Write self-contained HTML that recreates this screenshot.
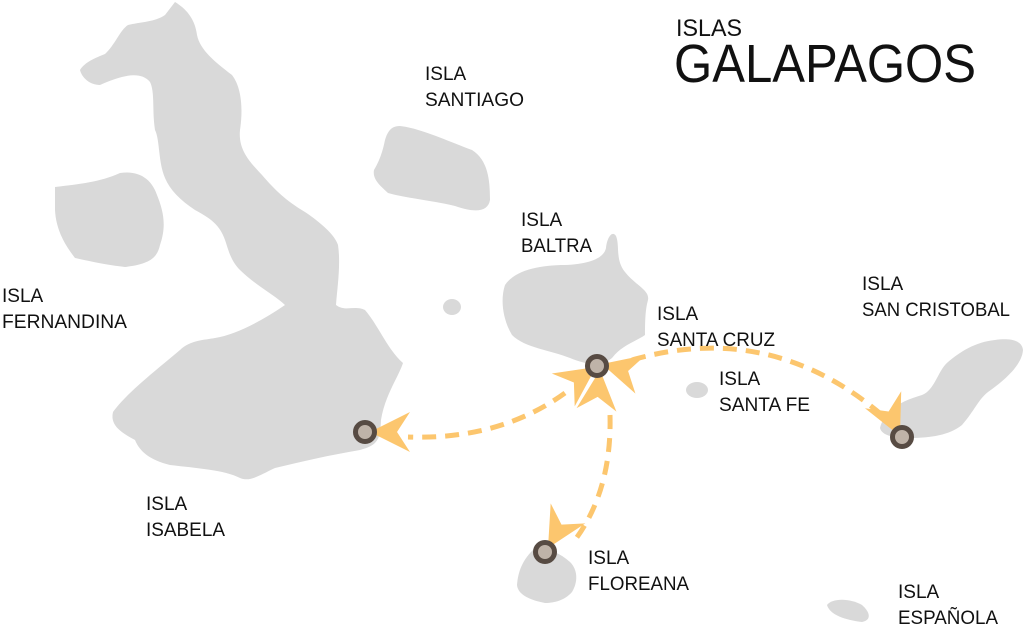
<!DOCTYPE html>
<html><head><meta charset="utf-8"><style>
html,body{margin:0;padding:0;background:#fff;}
svg{display:block;}
text{font-family:"Liberation Sans",sans-serif;fill:#111;}
</style></head><body>
<svg width="1024" height="630" viewBox="0 0 1024 630" xmlns="http://www.w3.org/2000/svg">
<g fill="#d9d9d9">
<path d="M175,2 C185,8 195,18 197,35 C200,50 215,62 232,75 C242,88 243,110 240,130 C238,150 250,162 262,175 C275,190 285,200 305,212 C320,222 335,235 338,245 C341,265 337,290 336,305 C345,312 355,305 365,310 C378,325 388,350 403,363 C398,378 385,395 381,420 C380,440 378,445 360,450 C330,455 300,462 275,468 C258,476 250,482 240,478 C225,470 195,468 170,465 C150,460 140,452 135,440 C120,432 110,425 113,412 C125,395 150,375 180,350 C190,340 205,340 215,338 C235,335 260,322 285,305 C275,295 255,285 240,270 C230,260 228,248 225,240 C220,225 210,218 195,210 C180,200 170,190 165,178 C158,162 160,140 155,130 C152,110 155,92 150,82 C140,70 120,76 100,85 C90,85 82,78 80,70 C85,62 95,58 105,54 C115,45 120,30 128,25 C140,22 155,22 165,15 Z"/>
<path d="M55,187 C80,184 100,182 120,173 C140,170 152,180 157,195 C163,210 167,225 160,245 C157,258 150,264 125,267 C100,264 85,260 75,258 C65,245 56,230 55,210 Z"/>
<path d="M400,126 C420,128 450,142 472,150 C488,160 490,180 490,200 C488,212 475,213 455,206 C430,200 405,198 388,193 C382,187 372,180 374,170 C380,160 383,150 385,140 C388,130 392,126 400,126 Z"/>
<path d="M505,285 C515,270 540,265 565,265 C590,264 604,258 606,248 C607,238 612,230 616,236 C620,245 615,260 625,272 C635,285 650,290 648,300 C645,310 645,325 645,335 C635,342 622,345 612,358 C600,368 585,364 570,358 C550,350 525,348 512,335 C503,320 500,300 505,285 Z"/>
<ellipse cx="452" cy="307" rx="9" ry="8"/>
<ellipse cx="697" cy="390" rx="11" ry="8"/>
<path d="M880,428 C885,408 905,400 922,395 C935,390 938,370 948,362 C960,352 975,342 995,340 C1010,338 1022,340 1023,350 C1022,365 1005,380 988,392 C978,400 975,410 962,425 C950,435 930,438 910,438 C895,438 882,436 880,428 Z"/>
<path d="M827,605 C832,598 850,598 862,605 C870,612 872,620 862,622 C845,620 830,615 827,605 Z"/>
<path d="M535,548 C548,548 560,553 570,562 C578,570 578,582 572,592 C565,600 555,603 545,603 C530,600 518,595 517,585 C518,572 522,560 535,548 Z"/>
</g>
<g fill="none" stroke="#fcc66e" stroke-width="5" stroke-dasharray="14,9">
<path d="M565,393 Q 500,440 408,437"/>
<path d="M610,415 Q 612,490 575,540"/>
<path d="M632,360 Q 770,320 882,415"/>
</g>
<g fill="#fcc66e">
<path d="M0,0 L-40,-20 L-27,0 L-40,20 Z" transform="translate(370,432) rotate(180)"/>
<path d="M0,0 L-40,-20 L-27,0 L-40,20 Z" transform="translate(596,367) rotate(-35)"/>
<path d="M0,0 L-40,-20 L-27,0 L-40,20 Z" transform="translate(600,370) rotate(-85)"/>
<path d="M0,0 L-40,-20 L-27,0 L-40,20 Z" transform="translate(548,548) rotate(120)"/>
<path d="M0,0 L-40,-20 L-27,0 L-40,20 Z" transform="translate(602,364) rotate(195)"/>
<path d="M0,0 L-40,-20 L-27,0 L-40,20 Z" transform="translate(900,436) rotate(65)"/>
</g>
<g fill="#bfb3a8" stroke="#574b43" stroke-width="5">
<circle cx="365" cy="432" r="9.5"/>
<circle cx="597" cy="366" r="9.5"/>
<circle cx="902" cy="437" r="9.5"/>
<circle cx="545" cy="552" r="9.5"/>
</g>
<text x="676" y="36" font-size="24" textLength="66" lengthAdjust="spacingAndGlyphs">ISLAS</text>
<text x="674" y="82" font-size="54" textLength="302" lengthAdjust="spacingAndGlyphs">GALAPAGOS</text>
<g font-size="19">
<text x="425" y="80">ISLA</text><text x="425" y="106" textLength="99" lengthAdjust="spacingAndGlyphs">SANTIAGO</text>
<text x="521" y="226">ISLA</text><text x="521" y="252" textLength="71" lengthAdjust="spacingAndGlyphs">BALTRA</text>
<text x="2" y="302">ISLA</text><text x="2" y="328" textLength="125" lengthAdjust="spacingAndGlyphs">FERNANDINA</text>
<text x="657" y="320">ISLA</text><text x="657" y="346" textLength="118" lengthAdjust="spacingAndGlyphs">SANTA CRUZ</text>
<text x="719" y="385">ISLA</text><text x="719" y="411" textLength="91" lengthAdjust="spacingAndGlyphs">SANTA FE</text>
<text x="862" y="290">ISLA</text><text x="862" y="316" textLength="148" lengthAdjust="spacingAndGlyphs">SAN CRISTOBAL</text>
<text x="146" y="510">ISLA</text><text x="146" y="536" textLength="79" lengthAdjust="spacingAndGlyphs">ISABELA</text>
<text x="588" y="564">ISLA</text><text x="588" y="590" textLength="101" lengthAdjust="spacingAndGlyphs">FLOREANA</text>
<text x="898" y="598">ISLA</text><text x="898" y="624" textLength="100" lengthAdjust="spacingAndGlyphs">ESPAÑOLA</text>
</g>
</svg>
</body></html>
